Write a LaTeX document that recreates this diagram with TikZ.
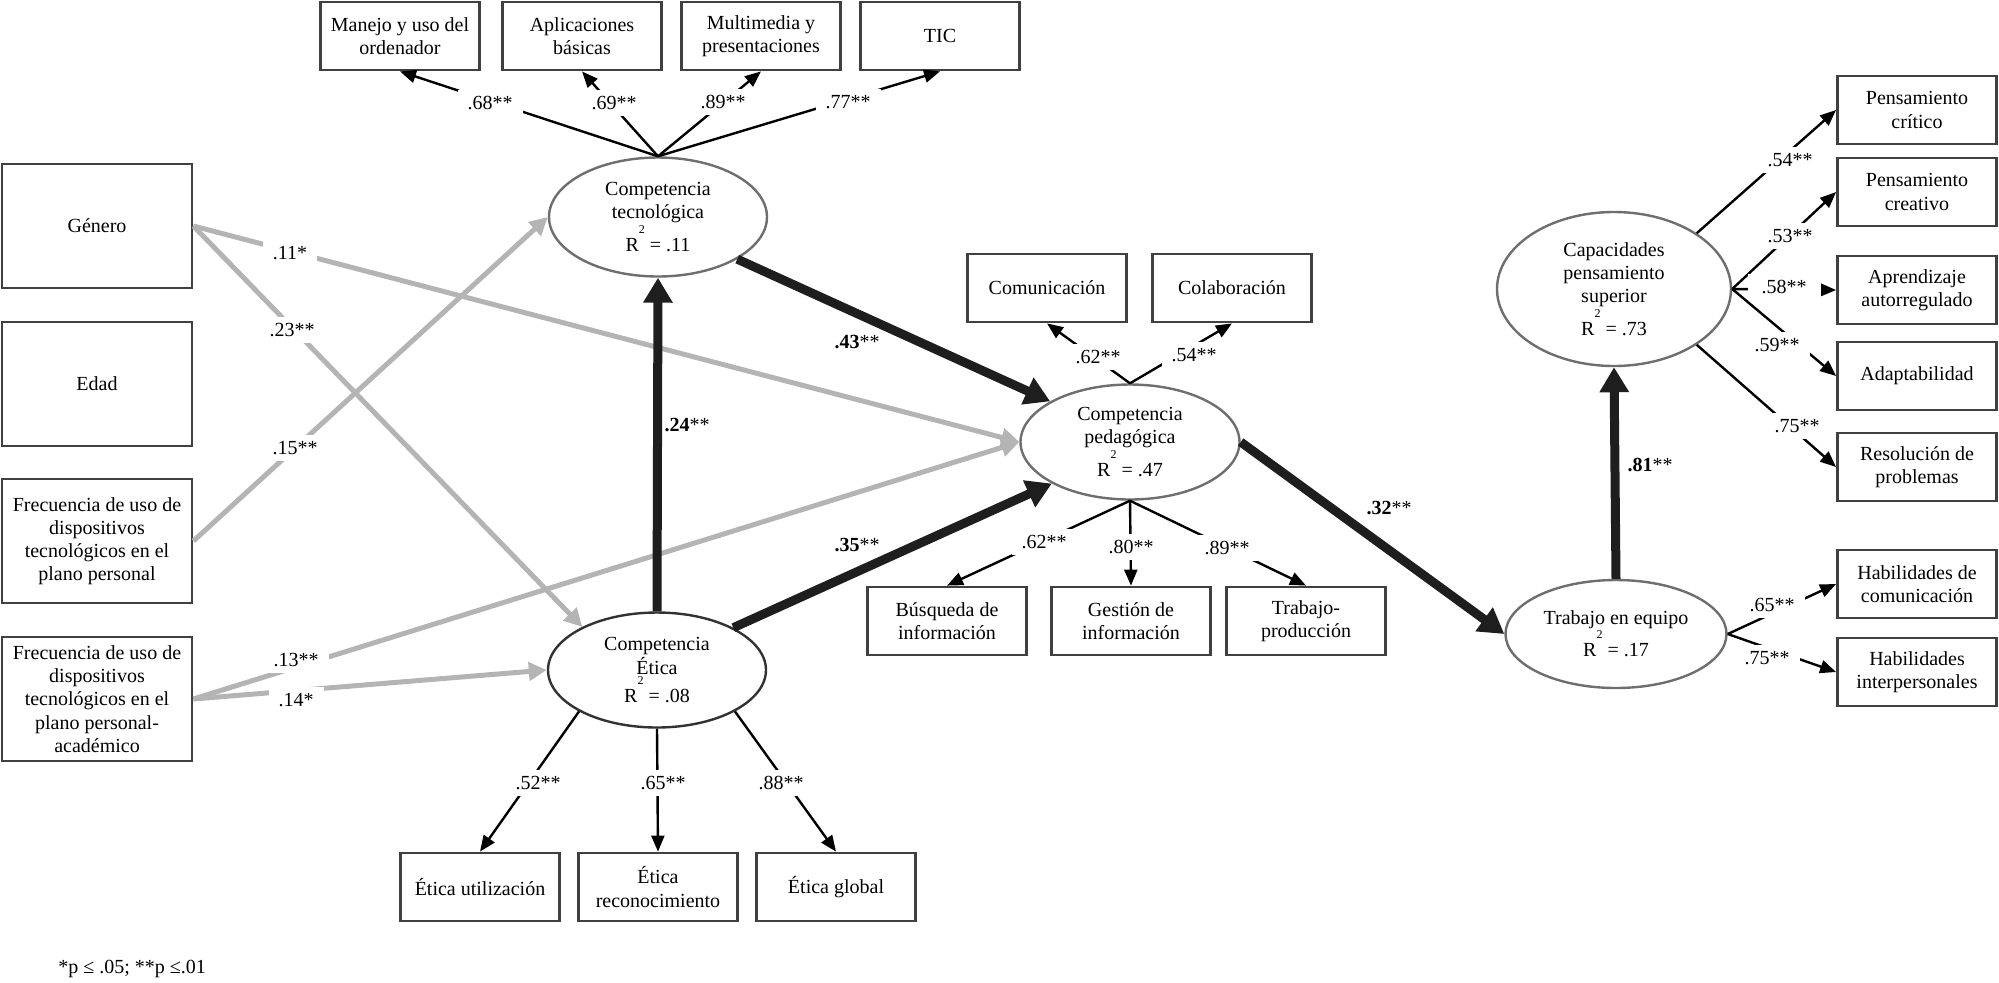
\documentclass[tikz,border=0pt]{standalone}
\usepackage{fontspec}
\setmainfont{Liberation Serif}
\usetikzlibrary{arrows.meta,shapes.geometric}
\definecolor{boxc}{RGB}{64,64,64}
\definecolor{ellc}{RGB}{110,110,110}
\definecolor{elld}{RGB}{50,50,50}
\definecolor{grayline}{RGB}{180,180,180}
\definecolor{thickc}{RGB}{30,30,30}
\newcommand{\Rsq}[1]{R\raisebox{9pt}{\fontsize{6}{6}\selectfont 2} = #1}
\begin{document}
\begin{tikzpicture}[x=0.5pt,y=-0.5pt,
  font=\fontsize{10}{11.6}\selectfont,
  obs/.style={draw=boxc, line width=1.4pt, minimum width=79.5pt, minimum height=34pt, align=center, inner sep=1pt, fill=white},
  obsl/.style={obs, minimum width=95pt, minimum height=62pt},
  lat/.style={ellipse, draw=ellc, line width=1.2pt, align=center, inner sep=0pt, fill=white},
  ind/.style={draw=black, line width=1.2pt, -{Triangle[length=8pt,width=6.5pt]}},
  thk/.style={draw=thickc, line width=4.5pt, -{Triangle[length=12.5pt,width=14pt]}},
  gry/.style={draw=grayline, line width=2.5pt, -{Triangle[length=9pt,width=9pt]}},
  lbl/.style={fill=white, inner xsep=5pt, inner ysep=3pt},
  blbl/.style={inner sep=1pt}
]
\useasboundingbox (0,0) rectangle (1999,982);

% latent variables
\node[lat, minimum width=109pt, minimum height=59.5pt] (tec) at (658,217) {Competencia\\tecnológica\\\Rsq{.11}};
\node[lat, minimum width=109.5pt, minimum height=57.5pt] (ped) at (1130,442) {Competencia\\pedagógica\\\Rsq{.47}};
\node[lat, draw=elld, minimum width=109pt, minimum height=57.5pt] (eti) at (657,670) {Competencia\\Ética\\\Rsq{.08}};
\node[lat, minimum width=117pt, minimum height=77pt] (cap) at (1614,289) {Capacidades\\pensamiento\\superior\\\Rsq{.73}};
\node[lat, minimum width=110.5pt, minimum height=54pt] (tra) at (1616,634) {Trabajo en equipo\\\Rsq{.17}};

% left observed
\node[obsl] (gen) at (97,226) {Género};
\node[obsl] (eda) at (97,384) {Edad};
\node[obsl] (fp) at (97,541) {Frecuencia de uso de\\dispositivos\\tecnológicos en el\\plano personal};
\node[obsl] (fa) at (97,699) {Frecuencia de uso de\\dispositivos\\tecnológicos en el\\plano personal-\\académico};

% top indicators
\node[obs] (man) at (400,36) {Manejo y uso del\\ordenador};
\node[obs] (apl) at (582,36) {Aplicaciones\\básicas};
\node[obs] (mul) at (761,36) {Multimedia y\\presentaciones};
\node[obs] (tic) at (940,36) {TIC};

% pedagogical indicators
\node[obs] (com) at (1047,288) {Comunicación};
\node[obs] (col) at (1232,288) {Colaboración};
\node[obs] (bus) at (947,621) {Búsqueda de\\información};
\node[obs] (ges) at (1131,621) {Gestión de\\información};
\node[obs] (tpr) at (1306,621) {Trabajo-\\producción};

% ethics indicators
\node[obs] (eu) at (480,887) {Ética utilización};
\node[obs] (er) at (658,887) {Ética\\reconocimiento};
\node[obs] (eg) at (836,887) {Ética global};

% right indicators
\node[obs] (cri) at (1917,110) {Pensamiento\\crítico};
\node[obs] (cre) at (1917,192) {Pensamiento\\creativo};
\node[obs] (apr) at (1917,290) {Aprendizaje\\autorregulado};
\node[obs] (ada) at (1917,376) {Adaptabilidad};
\node[obs] (res) at (1917,467) {Resolución de\\problemas};
\node[obs] (hco) at (1917,584) {Habilidades de\\comunicación};
\node[obs] (hin) at (1917,672) {Habilidades\\interpersonales};

% gray paths
\draw[gry] (gen.east) -- (ped.west);
\draw[gry] (gen.east) -- (eti.150);
\draw[gry] (fp.east) -- (tec.west);
\draw[gry] (fa.east) -- (ped.west);
\draw[gry] (fa.east) -- (eti.west);

% thin loadings
\draw[ind] (tec.north) -- (man.south);
\draw[ind] (tec.north) -- (apl.south);
\draw[ind] (tec.north) -- (mul.south);
\draw[ind] (tec.north) -- (tic.south);
\draw[ind] (ped.north) -- (com.south);
\draw[ind] (ped.north) -- (col.south);
\draw[ind] (ped.south) -- (bus.north);
\draw[ind] (ped.south) -- (ges.north);
\draw[ind] (ped.south) -- (tpr.north);
\draw[ind] (eti.208) -- (eu.north);
\draw[ind] (eti.south) -- (er.north);
\draw[ind] (eti.-28) -- (eg.north);
\draw[ind] (cap.34) -- (cri.west);
\draw[ind] (cap.east) -- (cre.west);
\draw[ind] (cap.east) -- (apr.west);
\draw[ind] (cap.east) -- (ada.west);
\draw[ind] (cap.-34) -- (res.west);
\draw[ind] (tra.east) -- (hco.west);
\draw[ind] (tra.east) -- (hin.west);

% thick structural paths
\draw[thk] (eti.north) -- (tec.south);
\draw[thk] (tec.-28) -- (ped.153);
\draw[thk] (eti.29) -- (ped.208);
\draw[thk] (ped.east) -- (tra.west);
\draw[thk] (tra.north) -- (cap.south);

% labels
\node[lbl] (l1) at (490,103) {.68**};
\node[lbl] (l2) at (614,103) {.69**};
\node[lbl] (l3) at (723,102) {.89**};
\node[lbl] (l4) at (848,102) {.77**};
\node[lbl] (l5) at (290,253) {.11*};
\node[lbl] (l6) at (292,330) {.23**};
\node[lbl] (l7) at (295,448) {.15**};
\node[lbl] (l8) at (296,660) {.13**};
\node[lbl] (l9) at (296,700) {.14*};
\node[blbl] (b1) at (687,425) {\textbf{.24}**};
\node[blbl] (b2) at (857,342) {\textbf{.43}**};
\node[blbl] (b3) at (857,545) {\textbf{.35}**};
\node[blbl] (b4) at (1389,508) {\textbf{.32}**};
\node[blbl] (b5) at (1650,465) {\textbf{.81}**};
\node[lbl] (l10) at (1098,357) {.62**};
\node[lbl] (l11) at (1194,355) {.54**};
\node[lbl] (l12) at (1044,542) {.62**};
\node[lbl] (l13) at (1131,547) {.80**};
\node[lbl] (l14) at (1227,548) {.89**};
\node[lbl] (l15) at (1790,160) {.54**};
\node[lbl] (l16) at (1790,236) {.53**};
\node[lbl, inner xsep=7pt] (l17) at (1784,287) {.58**};
\node[lbl] (l18) at (1777,345) {.59**};
\node[lbl] (l19) at (1797,426) {.75**};
\node[lbl] (l20) at (1772,605) {.65**};
\node[lbl] (l21) at (1767,658) {.75**};
\node[lbl] (l22) at (538,783) {.52**};
\node[lbl] (l23) at (663,783) {.65**};
\node[lbl] (l24) at (781,783) {.88**};

% footnote
\node[anchor=west, inner sep=0pt] (fn) at (58,969) {*p ≤ .05; **p ≤.01};
\end{tikzpicture}
\end{document}
